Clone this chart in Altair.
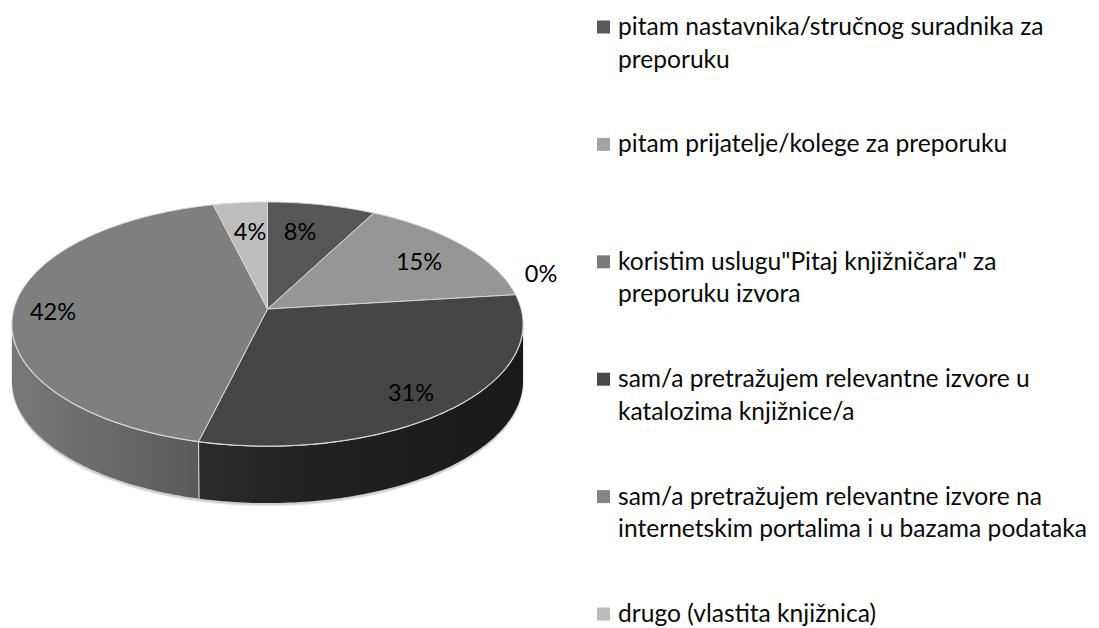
import math
import altair as alt
import pandas as pd

# ---- data ----
categories = [
    ["pitam nastavnika/stručnog suradnika za", "preporuku"],
    ["pitam prijatelje/kolege za preporuku"],
    ['koristim uslugu"Pitaj knjižničara" za', "preporuku izvora"],
    ["sam/a pretražujem relevantne izvore u", "katalozima knjižnice/a"],
    ["sam/a pretražujem relevantne izvore na", "internetskim portalima i u bazama podataka"],
    ["drugo (vlastita knjižnica)"],
]
counts = [2, 4, 0, 8, 11, 1]
labels = ["8%", "15%", "0%", "31%", "42%", "4%"]

# ---- styles / layout (screen pixels minus page margin) ----
top_colors = ["#565656", "#969696", "#7b7b7b", "#454545", "#7f7f7f", "#bdbdbd"]
legend_colors = ["#595959", "#a3a3a3", "#7b7b7b", "#484848", "#858585", "#bcbcbc"]
label_centres = [(300, 233), (419, 263), (541, 275), (411, 394), (53, 313), (250, 233)]
M = 8
CX, CY, A, B, K, DEPTH = 267.5, 309.0, 253.6, 120.2, 0.123, 57.0
FONT = "Lato"


def project(turn):
    t = 2 * math.pi * turn
    s, c = math.sin(t), math.cos(t)
    w = 1 + K * c
    return (CX + A * s / w - M, CY - B * c / w - M)


def arc(t0, t1, n=None):
    n = n or max(2, int(abs(t1 - t0) * 360))
    return [project(t0 + (t1 - t0) * i / n) for i in range(n + 1)]


def poly(points, **props):
    pts = [list(p) for p in points]
    pts.append(pts[0])
    return {"type": "Feature", "properties": props,
            "geometry": {"type": "Polygon", "coordinates": [pts]}}


total = sum(counts)
edges = [0.0]
for v in counts:
    edges.append(edges[-1] + v / total)


def shapes(features, **mark):
    return alt.Chart(alt.Data(values=features)).mark_geoshape(**mark).project(
        type="identity", scale=1, translate=[0, 0])


def wall(t0, t1, depth=DEPTH):
    top = arc(t0, t1)
    bottom = [(x, y + depth) for x, y in reversed(top)]
    return top + bottom


def gradient(stops):
    return alt.Gradient(
        gradient="linear", x1=0, x2=1, y1=0, y2=0,
        stops=[alt.GradientStop(color=c, offset=o) for o, c in stops],
    )


WALL_START = 0.2695   # right-hand silhouette of the disc
WALL_END = 0.7305     # left-hand silhouette of the disc
split = edges[4]      # 31% / 42% boundary, the only one on the visible rim

shadow = shapes([poly(wall(WALL_START, WALL_END, DEPTH + 2.5))],
                fill="#cfcfcf", stroke="#e4e4e4", strokeWidth=1)
wall_dark = shapes([poly(wall(WALL_START, split))],
                   fill=gradient([(0, "#2b2b2b"), (0.3, "#222222"), (1, "#191919")]))
wall_mid = shapes([poly(wall(split, WALL_END))],
                  fill=gradient([(0, "#787878"), (0.5, "#6a6a6a"), (1, "#5a5a5a")]))
sx, sy = project(split)
wall_edge = alt.Chart(pd.DataFrame({"x": [sx], "x2": [sx + 0.5], "y": [sy], "y2": [sy + DEPTH]})).mark_rule(
    color="#e0e0e0", strokeWidth=1).encode(
    x=alt.X("x:Q", scale=None, axis=None), x2="x2:Q",
    y=alt.Y("y:Q", scale=None, axis=None), y2="y2:Q")
rim = shapes([{
    "type": "Feature", "properties": {},
    "geometry": {"type": "LineString", "coordinates": [list(p) for p in arc(WALL_START, WALL_END)]}}],
    filled=False, stroke="#e8e8e8", strokeWidth=1.5)

centre = (CX - M, CY - M)
tops = []
for i, v in enumerate(counts):
    if v == 0:
        continue
    tops.append(poly([centre] + arc(edges[i], edges[i + 1]), fill=top_colors[i]))
top_layer = shapes(tops, stroke="#d9d9d9", strokeWidth=1).encode(
    fill=alt.Fill("properties.fill:N", scale=None))

pct = pd.DataFrame({"t": labels,
                    "x": [p[0] - M for p in label_centres],
                    "y": [p[1] - M for p in label_centres]})
pct_layer = alt.Chart(pct).mark_text(font=FONT, fontSize=23.5, color="#000000",
                                     align="center", baseline="middle").encode(
    x=alt.X("x:Q", scale=None, axis=None),
    y=alt.Y("y:Q", scale=None, axis=None),
    text="t:N")

LEG_Y0, LEG_STEP, LINE_H = 28.0, 117.4, 32.5
LEG_MARK_X, LEG_TEXT_X = 603.5, 618.0
rows, lines = [], []
for i, entry in enumerate(categories):
    y0 = LEG_Y0 + i * LEG_STEP - M
    rows.append({"x": LEG_MARK_X - M, "y": y0 - 1, "c": legend_colors[i]})
    for j, line in enumerate(entry):
        lines.append({"x": LEG_TEXT_X - M, "y": y0 + j * LINE_H, "t": line})

leg_marks = alt.Chart(pd.DataFrame(rows)).mark_square(size=169, opacity=1).encode(
    x=alt.X("x:Q", scale=None, axis=None),
    y=alt.Y("y:Q", scale=None, axis=None),
    color=alt.Color("c:N", scale=None))
leg_text = alt.Chart(pd.DataFrame(lines)).mark_text(font=FONT, fontSize=24.6, color="#0a0a0a",
                                                    align="left", baseline="middle").encode(
    x=alt.X("x:Q", scale=None, axis=None),
    y=alt.Y("y:Q", scale=None, axis=None),
    text="t:N")

chart = alt.layer(shadow, wall_dark, wall_mid, wall_edge, rim, top_layer,
                  pct_layer, leg_marks, leg_text).properties(
    width=1083, height=620,
    padding=0, autosize=alt.AutoSizeParams(type="none"),
    background="#ffffff",
).configure_view(stroke=None)

chart.save("out.html", embed_options={"renderer": "svg", "actions": False})
